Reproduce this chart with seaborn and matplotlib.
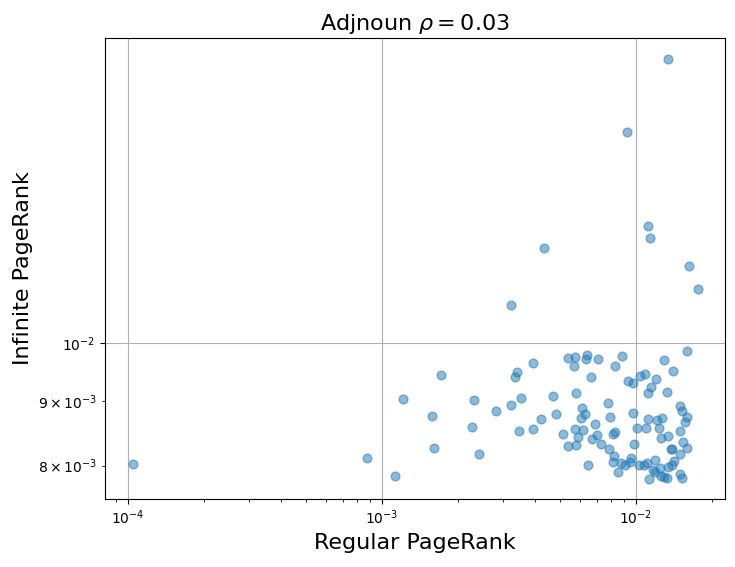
import matplotlib
matplotlib.use("Agg")
import matplotlib.pyplot as plt
import seaborn as sns
import pandas as pd

regular_pagerank = [
    0.01334, 0.00920, 0.01111, 0.01132, 0.00434, 0.01624, 0.01753, 0.00323,
    0.01589, 0.005420, 0.005744, 0.006387, 0.006341, 0.007072, 0.008770, 0.003948,
    0.01286, 0.005682, 0.008302, 0.003386, 0.003349, 0.001700, 0.01398, 0.01083,
    0.01033, 0.006672, 0.01196, 0.009263, 0.009713, 0.01144, 0.005787, 0.01111,
    0.01319, 0.001215, 0.002309, 0.003512, 0.004702, 0.007746, 0.003229, 0.01488,
    0.01515, 0.002822, 0.006113, 0.006271, 0.006091, 0.004824, 0.009713, 0.001580,
    0.004245, 0.007888, 0.01111, 0.01213, 0.01268, 0.01589, 0.01561, 0.006895,
    0.002267, 0.003948, 0.003449, 0.005744, 0.006180, 0.01007, 0.01091, 0.01227,
    0.008243, 0.008153, 0.01488, 0.005150, 0.007020, 0.005938, 0.006697, 0.01334,
    0.01258, 0.01526, 0.007255, 0.009819, 0.001598, 0.005420, 0.005807, 0.01373,
    0.01388, 0.01589, 0.007804, 0.002412, 0.01488, 0.008182, 0.000869, 0.009537,
    0.01187, 0.008093, 0.008737, 0.009030, 0.009468, 0.01026, 0.01072, 0.01104,
    0.01414, 0.01383, 0.01334, 0.006457, 0.0001048, 0.01240, 0.01166, 0.01187,
    0.01254, 0.01291, 0.01324, 0.008486, 0.01493, 0.01515, 0.01124, 0.001130,
]

infinite_pagerank = [
    0.01676, 0.01468, 0.01237, 0.01210, 0.01189, 0.01150, 0.01103, 0.01072,
    0.009855, 0.009737, 0.009754, 0.009778, 0.009713, 0.009719, 0.009772, 0.009643,
    0.009696, 0.009590, 0.009590, 0.009486, 0.009400, 0.009440, 0.009503, 0.009452,
    0.009418, 0.009400, 0.009366, 0.009338, 0.009304, 0.009237, 0.009137, 0.009137,
    0.009154, 0.009032, 0.009021, 0.009048, 0.009082, 0.008971, 0.008934, 0.008923,
    0.008831, 0.008842, 0.008890, 0.008794, 0.008725, 0.008794, 0.008810, 0.008757,
    0.008715, 0.008741, 0.008715, 0.008688, 0.008731, 0.008747, 0.008662, 0.008630,
    0.008588, 0.008557, 0.008526, 0.008557, 0.008541, 0.008573, 0.008573, 0.008568,
    0.008511, 0.008475, 0.008521, 0.008475, 0.008459, 0.008428, 0.008398, 0.008444,
    0.008418, 0.008352, 0.008322, 0.008322, 0.008262, 0.008297, 0.008307, 0.008252,
    0.008242, 0.008267, 0.008242, 0.008172, 0.008177, 0.008137, 0.008113, 0.008108,
    0.008089, 0.008054, 0.008040, 0.008005, 0.008059, 0.008015, 0.008015, 0.008045,
    0.008064, 0.008005, 0.007981, 0.008015, 0.008025, 0.007962, 0.007933, 0.007909,
    0.007857, 0.007843, 0.007828, 0.007914, 0.007876, 0.007828, 0.007809, 0.007857,
]

title_text = r"Adjnoun $\rho = 0.03$"
x_label = "Regular PageRank"
y_label = "Infinite PageRank"

df = pd.DataFrame({"regular": regular_pagerank, "infinite": infinite_pagerank})

fig = plt.figure(figsize=(7.35, 5.67), dpi=100)
ax = fig.add_axes([0.1429, 0.12, 0.8435, 0.813])
sns.scatterplot(data=df, x="regular", y="infinite", ax=ax, color="#1f77b4",
                alpha=0.5, s=40, edgecolor="#1f77b4", linewidth=1.0)
ax.set_xscale("log")
ax.set_yscale("log")
ax.set_xlim(8.12e-5, 0.02241)
ax.set_ylim(7.53e-3, 0.01742)
ax.grid(True, which="major", color="#b0b0b0", linewidth=0.8)
ax.set_axisbelow(True)
ax.set_title(title_text, fontsize=16)
ax.set_xlabel(x_label, fontsize=16)
ax.set_ylabel(y_label, fontsize=16)
fig.savefig("out.png", dpi=100)
